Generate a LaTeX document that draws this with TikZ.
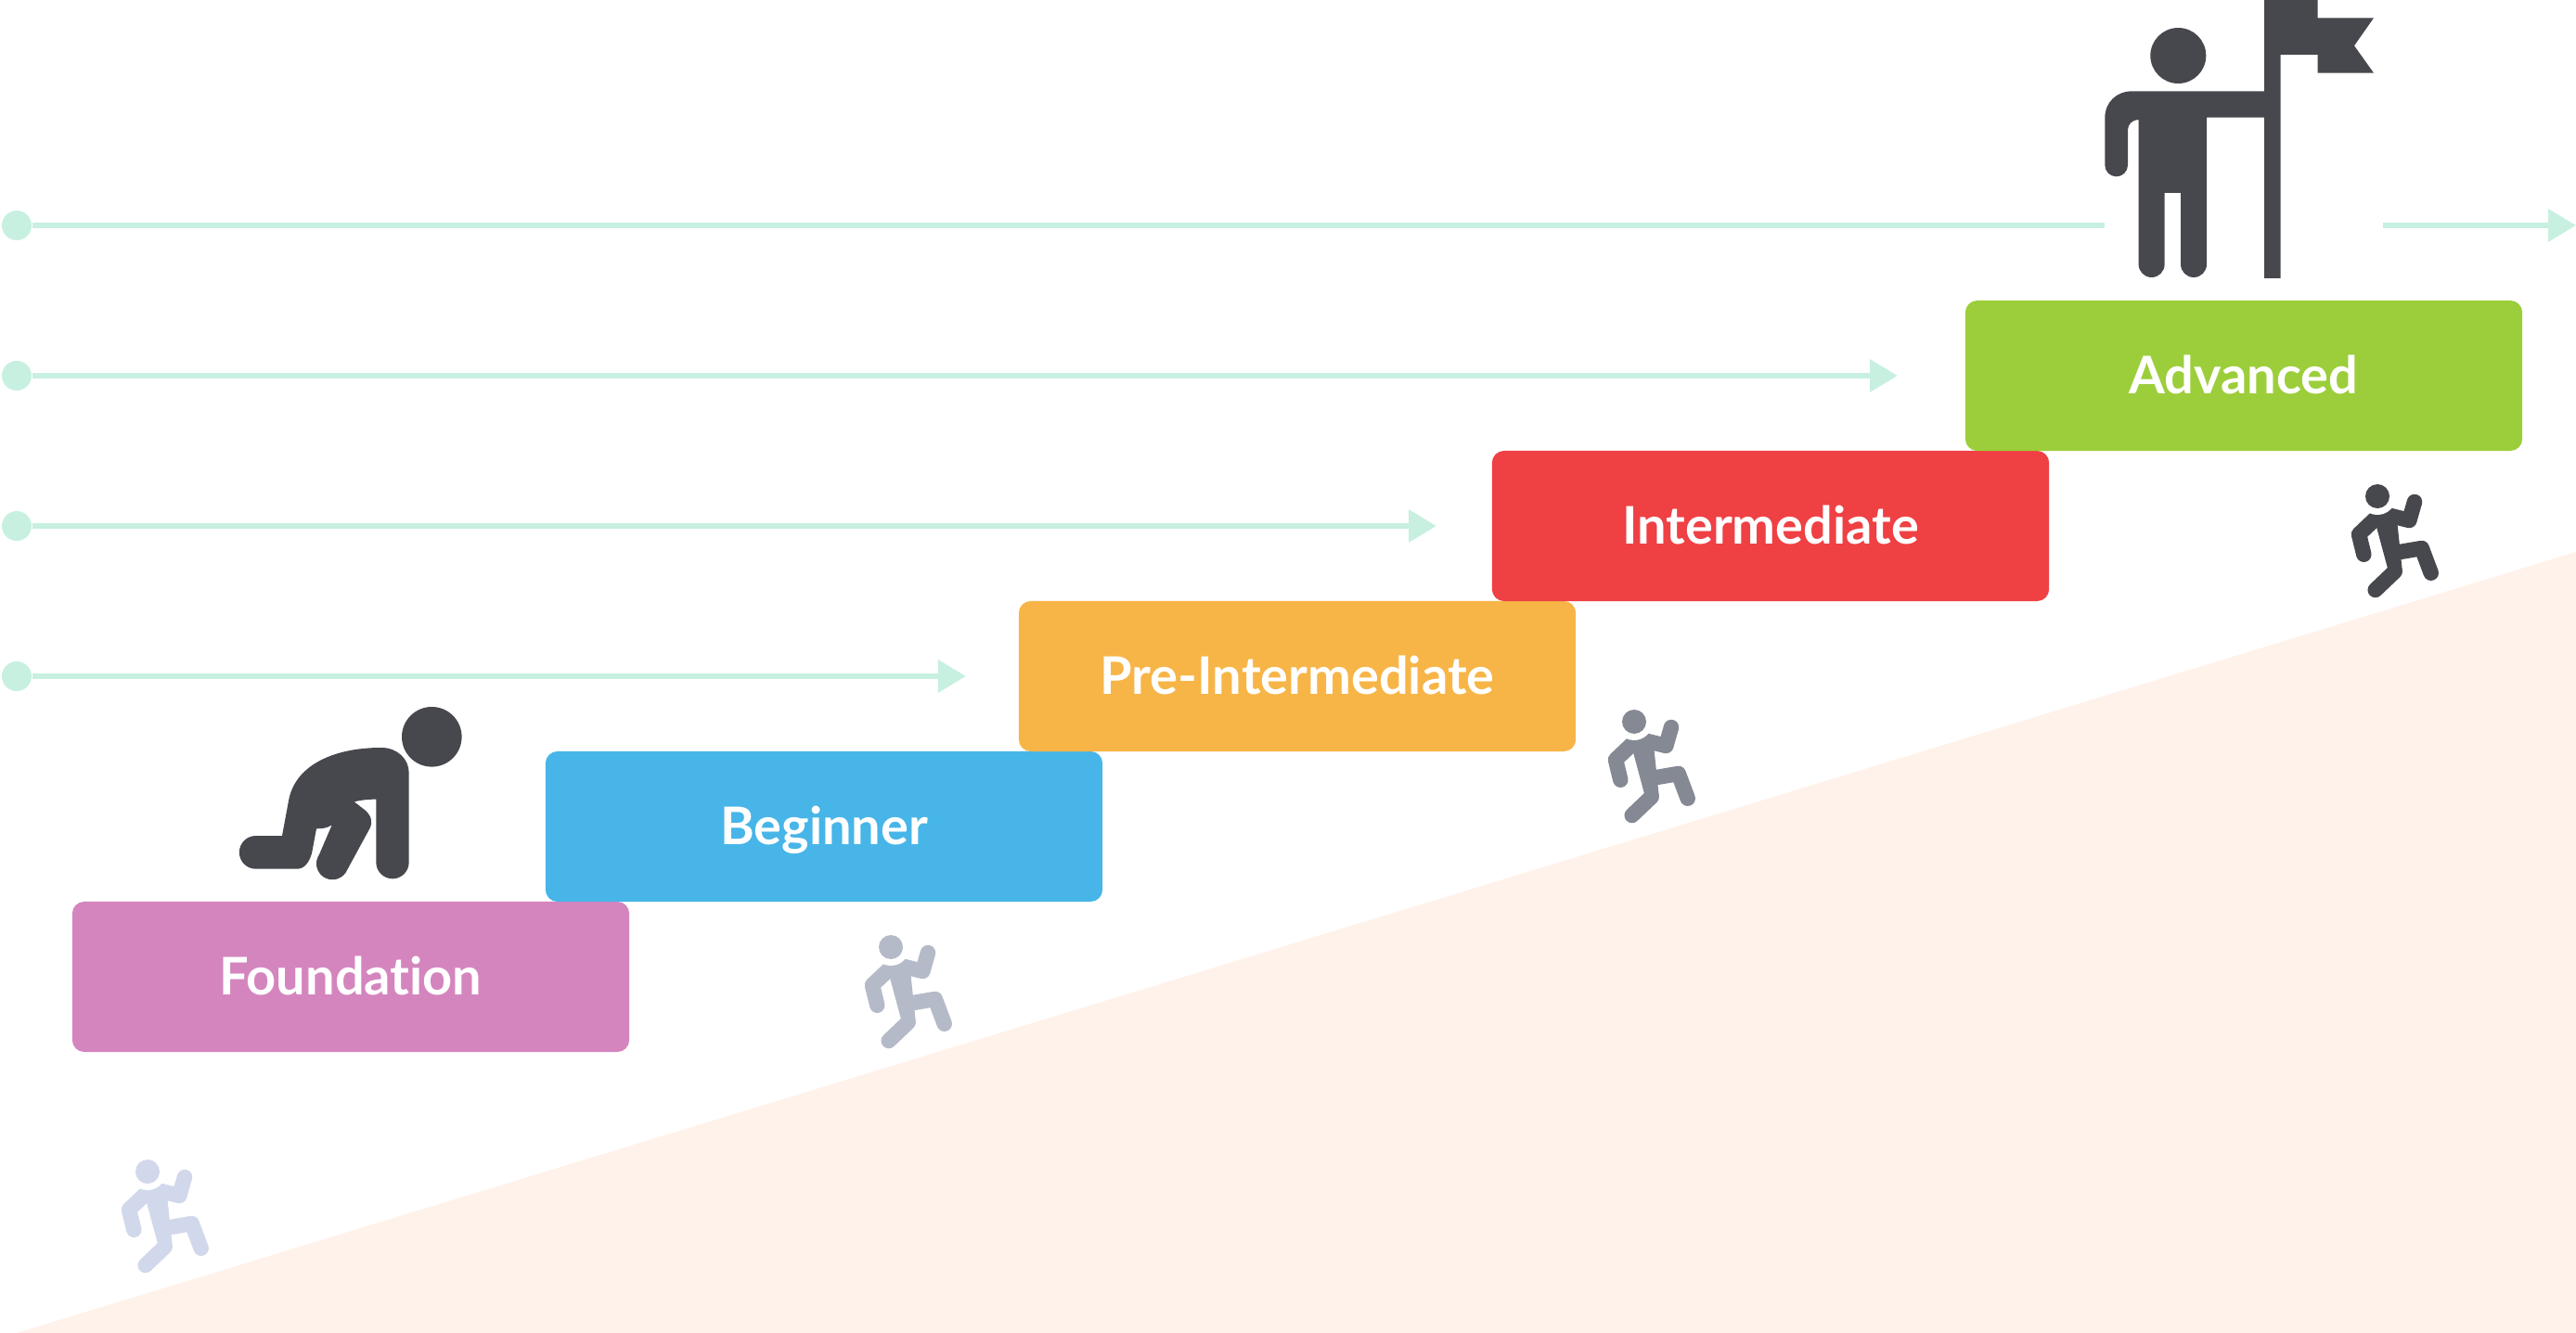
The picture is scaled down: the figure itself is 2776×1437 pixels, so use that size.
\documentclass[tikz,border=0pt]{standalone}
\usepackage{xcolor}
\usepackage{fontspec}
\setmainfont[Ligatures=NoCommon]{Lato}
\usepackage{tikz}
\usetikzlibrary{arrows.meta}

\definecolor{slopecolor}{HTML}{FFF2EA}
\definecolor{linecolor}{HTML}{C7F0E0}
\definecolor{figurecolor}{HTML}{47484D}
\definecolor{foundationcolor}{HTML}{D485BE}
\definecolor{beginnercolor}{HTML}{47B5E8}
\definecolor{precolor}{HTML}{F7B547}
\definecolor{intermediatecolor}{HTML}{EF4044}
\definecolor{advancedcolor}{HTML}{9CCE3B}
\definecolor{runnerone}{HTML}{D2D8EB}
\definecolor{runnertwo}{HTML}{B5BAC8}
\definecolor{runnerthree}{HTML}{858994}

\tikzset{
    levelbox/.style={
        rounded corners=0.13cm,
        minimum width=6cm,
        minimum height=1.62cm,
        inner sep=0pt,
        text=white,
        text height=0.38cm,
        text depth=0pt,
        font=\fontsize{15.9}{18}\selectfont\bfseries
    },
    startdot/.style={
        circle,
        fill=linecolor,
        minimum size=0.32cm,
        inner sep=0pt
    },
    pathline/.style={
        line width=0.065cm,
        color=linecolor
    },
    patharrow/.style={
        pathline,
        -{Triangle[length=0.3cm,width=0.34cm]}
    },
    limb/.style={
        line width=0.165cm,
        line cap=round,
        line join=round
    },
    pics/runner/.style={
        code={
            \draw[limb,color=#1] (-14.7,62.7) -- (-20,41) -- (-0.7,22.7) -- (14.3,21) -- (34.3,26) -- (40,6);
            \draw[limb,color=#1] (-2.3,101) -- (18.7,81);
            \draw[limb,color=#1] (57.7,82.7) -- (47.7,56) -- (24.3,60);
            \fill[#1] (-0.7,34.3) -- (11,77.7) -- (13,88) -- (26.7,79.3) -- (21,25) -- (5,20) -- cycle;
            \fill[white] (0,0) circle[radius=20];
            \fill[#1] (0,0) circle[radius=13];
        }
    }
}

\begin{document}
\begin{tikzpicture}[x=0.01cm,y=-0.01cm]
    \useasboundingbox (0,0) rectangle (2776,1437);

    \fill[slopecolor] (18,1437) -- (2776,595) -- (2776,1437) -- cycle;

    \node[startdot] (dotfour) at (18,243) {};
    \node[startdot] (dotthree) at (18,405) {};
    \node[startdot] (dottwo) at (18,567) {};
    \node[startdot] (dotone) at (18,729) {};

    \coordinate (gapleft) at (2268,243);
    \coordinate (gapright) at (2568,243);
    \coordinate (tipfour) at (2776,243);
    \coordinate (tipthree) at (2045,405);
    \coordinate (tiptwo) at (1548,567);
    \coordinate (tipone) at (1041,729);

    \draw[pathline] (dotfour) -- (gapleft);
    \draw[patharrow] (gapright) -- (tipfour);
    \draw[patharrow] (dotthree) -- (tipthree);
    \draw[patharrow] (dottwo) -- (tiptwo);
    \draw[patharrow] (dotone) -- (tipone);

    \node[levelbox,fill=foundationcolor] (foundation) at (378,1053) {Foundation};
    \node[levelbox,fill=beginnercolor] (beginner) at (888,891) {Beginner};
    \node[levelbox,fill=precolor] (preintermediate) at (1398,729) {Pre-Intermediate};
    \node[levelbox,fill=intermediatecolor] (intermediate) at (1908,567) {Intermediate};
    \node[levelbox,fill=advancedcolor] (advanced) at (2418,405) {Advanced};

    \pic at (159,1263) {runner=runnerone};
    \pic at (960,1021) {runner=runnertwo};
    \pic at (1761,778) {runner=runnerthree};
    \pic at (2562,535) {runner=figurecolor};

    % crawling figure
    \fill[figurecolor] (465.3,794.3) circle[radius=32.3];
    \fill[figurecolor] (275.7,936.7) arc[start angle=90,end angle=270,radius=17.85]
        -- (304,901) -- (311,863.3)
        .. controls (317.3,826.7) and (356.7,806) .. (411,806)
        .. controls (428,806) and (440.7,818) .. (440.7,833.3)
        -- (440.7,929.6) arc[start angle=0,end angle=180,radius=17.7]
        -- (405.3,861.7)
        .. controls (398,861.5) and (389,862.5) .. (381.7,864.3)
        -- (393.3,873.3)
        .. controls (400,879) and (402,886) .. (398.5,893)
        -- (372.5,940.8) arc[start angle=34.6,end angle=214.6,radius=17.3]
        -- (357.7,889.3)
        .. controls (352,893) and (347,893.3) .. (341,893.3)
        -- (336,920)
        .. controls (333,930) and (328,936.7) .. (320,936.7)
        -- cycle;

    % figure with flag
    \fill[figurecolor] (2347.3,60) circle[radius=30];
    \fill[figurecolor] (2440,0) -- (2497.6,0) -- (2497.6,19.3) -- (2558,19.3)
        -- (2537,49.3) -- (2558,78.7) -- (2497.6,78.7) -- (2497.6,59)
        -- (2457.5,59) -- (2457.5,300) -- (2440,300) -- (2440,126.7)
        -- (2378,126.7) -- (2378,285) arc[start angle=0,end angle=180,radius=14]
        -- (2350,208) -- (2332.6,208)
        -- (2332.6,285) arc[start angle=0,end angle=180,radius=14]
        -- (2304.6,129)
        .. controls (2298,129) and (2293,134) .. (2293,140)
        -- (2293,178) arc[start angle=0,end angle=180,radius=12.35]
        -- (2268.3,127)
        .. controls (2268.3,110) and (2281,98.3) .. (2298,98.3)
        -- (2440,98.3) -- cycle;
\end{tikzpicture}
\end{document}
